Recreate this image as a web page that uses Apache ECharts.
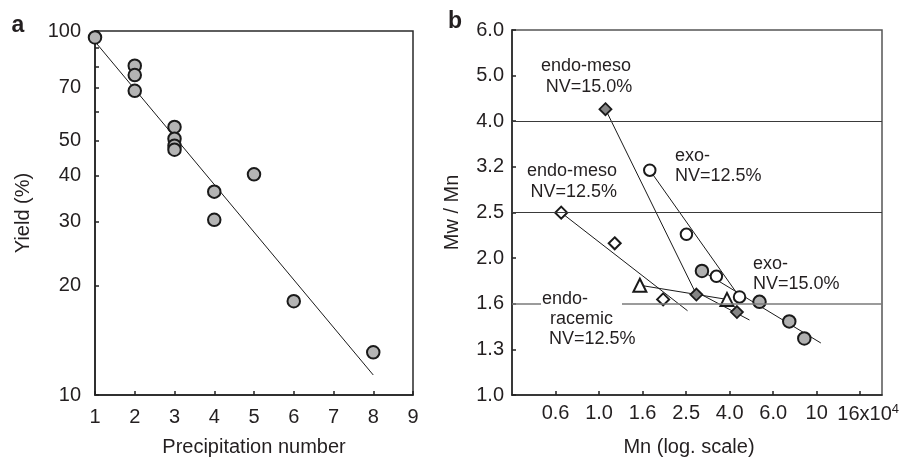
<!DOCTYPE html>
<html><head><meta charset="utf-8">
<script src="https://cdn.jsdelivr.net/npm/echarts@6/dist/echarts.min.js"></script>
<style>html,body{margin:0;padding:0;background:#fff}#c{width:907px;height:459px}</style>
</head><body><div id="c"></div>
<script>
// ---------- Panel a: yield vs precipitation number ----------
const precipNumber = [1, 2, 2, 2, 3, 3, 3, 3, 4, 4, 5, 6, 8];
const yieldPct     = [96, 80.3, 75.7, 68.5, 54.5, 50.6, 48.4, 47.2, 36.2, 30.3, 40.4, 18.1, 13.1];
const yieldFitX    = [1, 8];
const yieldFitY    = [93.5, 11.35];
const precipTicks  = [1, 2, 3, 4, 5, 6, 7, 8, 9];
const yieldTickLabels = [10, 20, 30, 40, 50, 70, 100];
const yieldTickMarks  = [10, 20, 30, 40, 50, 60, 70, 80, 90, 100];

// ---------- Panel b: Mw/Mn vs Mn (x10^4) ----------
const endoMeso15Mn   = [1.07, 2.80, 4.30];
const endoMeso15PDI  = [4.23, 1.66, 1.52];
const endoMeso15FitMn  = [1.07, 2.75, 4.91];
const endoMeso15FitPDI = [4.23, 1.69, 1.46];

const endoMeso125Mn  = [0.67, 1.18, 1.97];
const endoMeso125PDI = [2.51, 2.15, 1.62];
const endoMeso125FitMn  = [0.67, 2.55];
const endoMeso125FitPDI = [2.51, 1.53];

const exo125Mn  = [1.71, 2.52, 3.46, 4.42];
const exo125PDI = [3.11, 2.25, 1.82, 1.64];
const exo125FitMn  = [1.71, 4.42];
const exo125FitPDI = [3.11, 1.64];

const exo15Mn  = [2.97, 5.46, 7.48, 8.77];
const exo15PDI = [1.87, 1.60, 1.45, 1.33];
const exo15FitMn  = [2.97, 10.45];
const exo15FitPDI = [1.87, 1.30];

const endoRacemicMn  = [1.54, 3.87];
const endoRacemicPDI = [1.74, 1.62];
const endoRacemicFitMn  = [1.54, 3.87];
const endoRacemicFitPDI = [1.74, 1.62];

const mnTickLabels  = ['0.6', '1.0', '1.6', '2.5', '4.0', '6.0', '10', '16x10^4'];
const pdiTickLabels = ['1.0', '1.3', '1.6', '2.0', '2.5', '3.2', '4.0', '5.0', '6.0'];
const pdiGridLabels = ['1.6', '2.5', '4.0'];

// ---------- build ----------
const lg = Math.log10;
const FONT = '"Liberation Sans", Arial, Helvetica, sans-serif';
const TXT = '#231f20';
const pair = (xs, ys, fx, fy) => xs.map((x, i) => [fx(x), fy(ys[i])]);
const ident = v => v;

// panel b tick positions: label i sits at exponent -0.2 + 0.2*i (x) and 0.1*i (y)
const mnTickPos  = mnTickLabels.map((_, i) => -0.2 + 0.2 * i);
const pdiTickPos = pdiTickLabels.map((_, i) => 0.1 * i);

function axisBase() {
  return {
    nameLocation: 'middle',
    nameMoveOverlap: false,
    nameTextStyle: {color: TXT, fontSize: 20, fontFamily: FONT},
    axisLine: {show: true, onZero: false, lineStyle: {color: '#222', width: 1.5}},
    axisTick: {show: true, inside: true, length: 4, lineStyle: {color: '#222', width: 1.5}},
    axisLabel: {color: TXT, fontSize: 20, fontFamily: FONT, showMinLabel: true, showMaxLabel: true},
    splitLine: {show: false},
    minorTick: {show: false}
  };
}

const xa = axisBase();
Object.assign(xa, {gridIndex: 0, type: 'value', min: precipTicks[0], max: precipTicks[precipTicks.length - 1], interval: 1,
  name: 'Precipitation number', nameGap: 42});
xa.axisLabel.margin = 12;
xa.axisLabel.formatter = v => String(v);

const ya = axisBase();
Object.assign(ya, {gridIndex: 0, type: 'value', min: lg(yieldTickMarks[0]), max: lg(yieldTickMarks[yieldTickMarks.length - 1]),
  name: 'Yield (%)', nameGap: 62, nameRotate: 90});
ya.axisTick.customValues = yieldTickMarks.map(lg);
ya.axisLabel.customValues = yieldTickLabels.map(lg);
ya.axisLabel.margin = 14;
ya.axisLabel.formatter = v => String(Math.round(Math.pow(10, v)));

const xb = axisBase();
Object.assign(xb, {gridIndex: 1, type: 'value', min: -0.4, max: 1.3, name: 'Mn (log. scale)', nameGap: 42});
xb.nameTextStyle.padding = [0, 16, 0, 0];
xb.axisTick.customValues = mnTickPos;
xb.axisLabel.customValues = mnTickPos;
xb.axisLabel.margin = 8;
xb.axisLabel.formatter = v => {
  const s = mnTickLabels[Math.round((v + 0.2) / 0.2)] || '';
  if (s.indexOf('^') >= 0) { const p = s.split('^'); return '{sh|' + p[0] + '}{sup|' + p[1] + '}'; }
  return s;
};
xb.axisLabel.rich = {
  sh: {fontSize: 20, fontFamily: FONT, color: TXT, padding: [0, 0, 0, 16]},
  sup: {fontSize: 13, fontFamily: FONT, color: TXT, verticalAlign: 'bottom', padding: [0, 0, 9, 0]}
};

const yb = axisBase();
Object.assign(yb, {gridIndex: 1, type: 'value', min: 0, max: 0.8, name: 'Mw / Mn', nameGap: 50, nameRotate: 90});
yb.axisTick.customValues = pdiTickPos;
yb.axisLabel.customValues = pdiTickPos;
yb.axisLabel.margin = 8;
yb.axisLabel.formatter = v => pdiTickLabels[Math.round(v * 10)] || '';

const lineStyle = {color: '#1a1a1a', width: 1};
function fitLine(xs, ys, gi, fx, fy) {
  return {type: 'line', xAxisIndex: gi, yAxisIndex: gi, data: pair(xs, ys, fx, fy), symbol: 'none',
    lineStyle: lineStyle, silent: true, z: 2, animation: false};
}
function marks(xs, ys, gi, fx, fy, symbol, size, fill, bw) {
  return {type: 'scatter', xAxisIndex: gi, yAxisIndex: gi, data: pair(xs, ys, fx, fy), symbol: symbol, symbolSize: size,
    itemStyle: {color: fill, borderColor: '#1a1a1a', borderWidth: bw, opacity: 1}, silent: true, z: 4, animation: false};
}

const gridLineSeries = {
  type: 'line', xAxisIndex: 1, yAxisIndex: 1, data: [], silent: true, z: 1,
  markLine: {
    silent: true, symbol: 'none', label: {show: false}, animation: false,
    data: pdiGridLabels.map(l => ({
      yAxis: pdiTickPos[pdiTickLabels.indexOf(l)],
      lineStyle: l === '1.6' ? {color: '#7a7a7a', width: 1.6, type: 'solid'} : {color: '#3a3a3a', width: 1.2, type: 'solid'}
    }))
  }
};

const series = [
  fitLine(yieldFitX, yieldFitY, 0, ident, lg),
  marks(precipNumber, yieldPct, 0, ident, lg, 'circle', 12.5, '#b4b4b4', 2),
  gridLineSeries,
  fitLine(endoMeso15FitMn, endoMeso15FitPDI, 1, lg, lg),
  fitLine(endoMeso125FitMn, endoMeso125FitPDI, 1, lg, lg),
  fitLine(exo125FitMn, exo125FitPDI, 1, lg, lg),
  fitLine(exo15FitMn, exo15FitPDI, 1, lg, lg),
  fitLine(endoRacemicFitMn, endoRacemicFitPDI, 1, lg, lg),
  marks(endoMeso15Mn, endoMeso15PDI, 1, lg, lg, 'diamond', 12, '#858585', 1.8),
  marks(endoMeso125Mn, endoMeso125PDI, 1, lg, lg, 'diamond', 12, '#ffffff', 2),
  marks(exo125Mn, exo125PDI, 1, lg, lg, 'circle', 11.5, '#ffffff', 2),
  marks(exo15Mn, exo15PDI, 1, lg, lg, 'circle', 12.5, '#b0b0b0', 2),
  marks(endoRacemicMn, endoRacemicPDI, 1, lg, lg, 'triangle', 13, '#ffffff', 2)
];

const AF = '18px ' + FONT;
function t(text, x, y, align) {
  return {type: 'text', z: 60, silent: true,
    style: {text: text, x: x, y: y, font: AF, fill: TXT, align: align, verticalAlign: 'middle'}};
}
const graphic = [
  {type: 'text', z: 60, silent: true, style: {text: 'a', x: 18, y: 26, font: 'bold 23px ' + FONT, fill: TXT, align: 'center', verticalAlign: 'middle'}},
  {type: 'text', z: 60, silent: true, style: {text: 'b', x: 455, y: 22, font: 'bold 23px ' + FONT, fill: TXT, align: 'center', verticalAlign: 'middle'}},
  {type: 'rect', z: 50, silent: true, shape: {x: 541, y: 298, width: 81, height: 12}, style: {fill: '#ffffff'}},
  t('endo-meso', 586, 66, 'center'),
  t('NV=15.0%', 589, 87, 'center'),
  t('exo-', 675, 156, 'left'),
  t('NV=12.5%', 675, 176, 'left'),
  t('endo-meso', 617, 171, 'right'),
  t('NV=12.5%', 617, 192, 'right'),
  t('exo-', 753, 264, 'left'),
  t('NV=15.0%', 753, 284, 'left'),
  t('endo-', 542, 299, 'left'),
  t('racemic', 550, 319, 'left'),
  t('NV=12.5%', 549, 339, 'left')
];

const option = {
  backgroundColor: '#ffffff',
  animation: false,
  textStyle: {fontFamily: FONT},
  grid: [
    {left: 95, top: 31, width: 318, height: 364, show: true, borderColor: '#2a2a2a', borderWidth: 1.5, backgroundColor: 'transparent', containLabel: false, outerBoundsMode: 'none'},
    {left: 512, top: 30, width: 370, height: 365, show: true, borderColor: '#555555', borderWidth: 1.5, backgroundColor: 'transparent', containLabel: false, outerBoundsMode: 'none'}
  ],
  xAxis: [xa, xb],
  yAxis: [ya, yb],
  series: series,
  graphic: graphic
};

const chart = echarts.init(document.getElementById('c'), null, {renderer: 'canvas'});
chart.setOption(option);
</script>
</body></html>
